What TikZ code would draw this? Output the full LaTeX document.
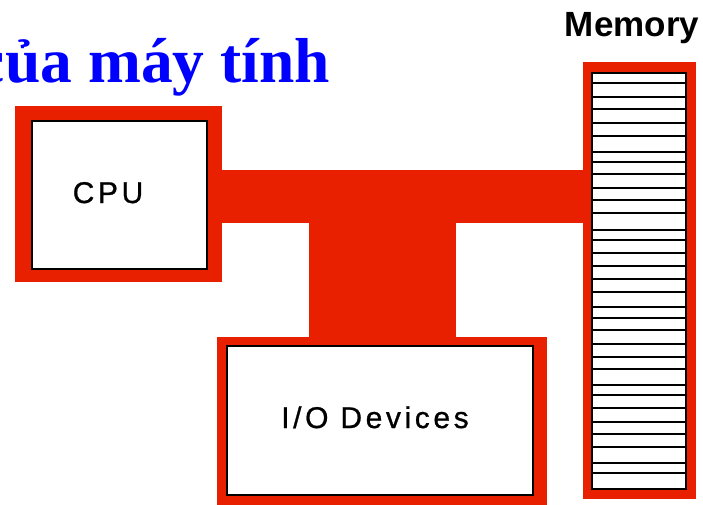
\documentclass[tikz,border=0pt]{standalone}
\usepackage{fontspec}
\setmainfont{Liberation Serif}
\newfontfamily\lblfont[LetterSpace=12,FakeBold=0.8]{Liberation Sans}
\newfontfamily\lblbold{Liberation Sans Bold}
\usepackage{xcolor}
\usetikzlibrary{positioning}
\definecolor{busred}{RGB}{233,32,0}
\definecolor{titleblue}{RGB}{0,0,255}

\begin{document}
\begin{tikzpicture}[x=1pt,y=-1pt,
	outer/.style={fill=busred,inner sep=0pt,outer sep=0pt},
	unit/.style={draw=black,fill=white,line width=1.8pt,inner sep=0pt,outer sep=0pt},
	bus/.style={busred,line width=#1},
	txt/.style={font=\lblfont\fontsize{#1}{#1}\selectfont,inner sep=0pt,anchor=base}]
		
		\clip (0,0) rectangle (703,504);
		
		\node[font=\bfseries\fontsize{63.5}{63.5}\selectfont,text=titleblue,
		anchor=base east,inner sep=0pt] (title) at (330,82)
		{của máy tính};
		
		\node[font=\lblbold\fontsize{35}{35}\selectfont,inner sep=0pt,anchor=base] (memlbl) at (632,36)
		{Memory};
		
		\node[outer,minimum width=207pt,minimum height=176pt] (cpu) at (118.5,194) {};
		\node[outer,minimum width=330pt,minimum height=170pt] (io) at (382,422) {};
		\node[outer,minimum width=113pt,minimum height=437pt] (mem) at (639.5,280.5) {};
		
		\coordinate (busy) at (0,196.5);
		\draw[bus=53pt] (cpu.east |- busy) -- (mem.west |- busy);
		\draw[bus=147pt] (io.north) -- (io.north |- busy);
		
		\node[unit,minimum width=175pt,minimum height=148pt] (cpuin) at (119.5,195) {};
		\node[unit,minimum width=306pt,minimum height=149pt] (ioin) at (380,420.5) {};
		\node[unit,minimum width=94pt,minimum height=416pt] (memin) at (639,281) {};
		
		\foreach \y in {83,97,109,123,136,152,162,174,188,200,213,230,240,253,266,
			279,292,307,318,330,344,357,369,385,395,408,422,434,447,463,473}
		\draw[line width=1.3pt] (memin.west |- 0,\y) -- (memin.east |- 0,\y);
		
		\node[txt=30] (cpulbl) at (108,203)
		{CPU};
		
		\node[txt=30] (iolbl) at (375,428)
		{I/O Devices};
		
	\end{tikzpicture}
\end{document}
